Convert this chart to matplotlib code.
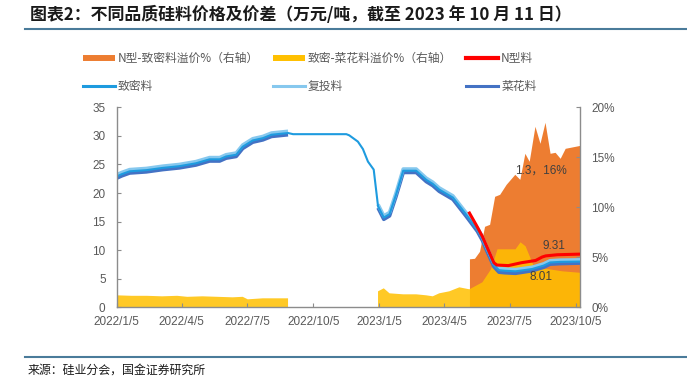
import numpy as np
import pandas as pd
import matplotlib
matplotlib.use("Agg")
import matplotlib.pyplot as plt
from matplotlib.lines import Line2D

# ---- data (万元/吨, %) ----
price_dates = ["2022-01-05", "2022-01-12", "2022-01-23", "2022-02-15", "2022-03-10", "2022-04-02",
               "2022-04-25", "2022-05-14", "2022-05-28", "2022-06-06", "2022-06-20", "2022-06-29",
               "2022-07-13", "2022-07-27", "2022-08-08", "2022-08-31",
               "2022-09-07", "2022-11-20", "2022-11-24", "2022-12-06", "2022-12-13", "2022-12-20",
               "2022-12-28",
               "2023-01-03", "2023-01-11", "2023-01-19", "2023-01-28", "2023-02-07", "2023-02-25",
               "2023-03-04", "2023-03-11", "2023-03-20", "2023-03-29", "2023-04-17", "2023-05-05",
               "2023-05-21", "2023-05-28", "2023-06-01", "2023-06-13", "2023-06-20", "2023-06-28",
               "2023-07-13", "2023-08-05", "2023-08-21", "2023-08-30", "2023-09-13", "2023-10-11"]
nan = np.nan
dense = [22.9, 23.3, 23.8, 24.0, 24.4, 24.7, 25.2, 25.9, 25.9, 26.4, 26.7, 28.1, 29.2, 29.6, 30.2, 30.5,
         30.3, 30.3, 30.1, 29.0, 27.7, 25.5, 24.1,
         17.7, 15.7, 16.3, 19.7, 23.9, 23.9, 23.1, 22.3, 21.6, 20.6, 19.2, 16.3, 13.6, 12.0, 10.8,
         7.4, 6.5, 6.4, 6.3, 6.7, 7.3, 7.85, 7.95, 8.01]
recharge = [23.2, 23.6, 24.1, 24.3, 24.7, 25.0, 25.5, 26.2, 26.2, 26.7, 27.0, 28.4, 29.5, 29.9, 30.5, 30.8,
            nan, nan, nan, nan, nan, nan, nan,
            18.0, 16.0, 16.6, 20.0, 24.2, 24.2, 23.4, 22.6, 21.9, 20.9, 19.5, 16.6, 13.9, 12.3, 11.1,
            7.7, 6.8, 6.7, 6.6, 7.0, 7.6, 8.15, 8.25, 8.3]
cauli = [22.6, 23.0, 23.5, 23.7, 24.1, 24.4, 24.9, 25.6, 25.6, 26.1, 26.4, 27.8, 28.9, 29.3, 29.9, 30.2,
         nan, nan, nan, nan, nan, nan, nan,
         17.4, 15.4, 16.0, 19.4, 23.6, 23.6, 22.8, 22.0, 21.3, 20.3, 18.9, 16.0, 13.3, 11.7, 10.5,
         7.1, 6.15, 6.05, 5.95, 6.4, 7.0, 7.55, 7.65, 7.74]

ntype_dates = ["2023-05-10", "2023-05-19", "2023-05-28", "2023-06-13", "2023-06-17", "2023-07-03",
               "2023-07-21", "2023-08-10", "2023-08-19", "2023-08-24", "2023-09-09", "2023-10-11"]
ntype = [16.5, 14.5, 12.4, 7.8, 7.4, 7.3, 7.8, 8.2, 8.8, 9.0, 9.2, 9.31]

n_prem_dates = ["2023-05-10", "2023-05-17", "2023-05-24", "2023-05-31", "2023-06-07", "2023-06-14",
                "2023-06-21", "2023-06-30", "2023-07-06", "2023-07-12", "2023-07-19", "2023-07-26",
                "2023-08-01", "2023-08-09", "2023-08-16", "2023-08-23", "2023-08-30", "2023-09-06",
                "2023-09-13", "2023-09-20", "2023-10-11"]
n_prem = [4.85, 4.9, 5.6, 8.1, 8.3, 11.1, 11.3, 12.3, 12.8, 13.3, 12.8, 15.4, 14.6, 18.1, 16.4, 18.5,
          15.4, 15.5, 14.9, 15.9, 16.2]

c_prem_dates = ["2022-01-05", "2022-01-26", "2022-02-16", "2022-03-09", "2022-03-30", "2022-04-13",
                "2022-05-04", "2022-05-25", "2022-06-15", "2022-06-29", "2022-07-06", "2022-07-27",
                "2022-08-31", "2022-09-07", "2022-12-28",
                "2023-01-03", "2023-01-11", "2023-01-19", "2023-02-07", "2023-02-25", "2023-03-11",
                "2023-03-20", "2023-03-29", "2023-04-12", "2023-04-26", "2023-05-10", "2023-05-28",
                "2023-06-09", "2023-06-18", "2023-07-13", "2023-07-20", "2023-07-27", "2023-08-08",
                "2023-08-29", "2023-09-16", "2023-10-11"]
c_prem = [1.2, 1.15, 1.15, 1.1, 1.15, 1.05, 1.1, 1.05, 1.0, 1.05, 0.8, 0.9, 0.9, nan, nan,
          1.6, 1.9, 1.4, 1.3, 1.3, 1.2, 1.1, 1.4, 1.6, 2.0, 1.8, 2.5, 3.8, 5.8, 5.8, 6.5, 6.1, 4.0,
          3.8, 3.6, 3.45]

xtick_dates = ["2022-01-05", "2022-04-05", "2022-07-05", "2022-10-05",
               "2023-01-05", "2023-04-05", "2023-07-05", "2023-10-05"]
xtick_labels = ["2022/1/5", "2022/4/5", "2022/7/5", "2022/10/5",
                "2023/1/5", "2023/4/5", "2023/7/5", "2023/10/5"]
left_ticks = [0, 5, 10, 15, 20, 25, 30, 35]
right_ticks = [0, 5, 10, 15, 20]
right_labels = ["0%", "5%", "10%", "15%", "20%"]

labels = ["N型-致密料溢价%（右轴）", "致密-菜花料溢价%（右轴）", "N型料", "致密料", "复投料", "菜花料"]
title = "图表2：不同品质硅料价格及价差（万元/吨，截至 2023 年 10 月 11 日）"
source = "来源：硅业分会，国金证券研究所"

c_orange = "#ED7D31"
c_yellow = "#FFC000"
c_red = "#FF0000"
c_dense = "#1E9BDF"
c_recharge = "#86C8EE"
c_cauli = "#4472C4"
grey = "#595959"

plt.rcParams["font.family"] = ["Noto Sans CJK SC", "DejaVu Sans"]

fig = plt.figure(figsize=(6.87, 3.78), dpi=100)
ax = fig.add_axes([0.1699, 0.187, 0.6748, 0.5291])
ax2 = ax.twinx()
ax.set_zorder(2)
ax2.set_zorder(1)
ax.patch.set_visible(False)

px = pd.to_datetime(price_dates)
nx = pd.to_datetime(ntype_dates)
ox = pd.to_datetime(n_prem_dates)
yx = pd.to_datetime(c_prem_dates)

# areas on right axis
ax2.fill_between(ox, 0, n_prem, color=c_orange, lw=0)
cp = np.array(c_prem)
ax2.fill_between(yx, 0, np.nan_to_num(cp), where=~np.isnan(cp), color=c_yellow, alpha=0.85, lw=0)

# price lines on left axis
ax.plot(px, cauli, color=c_cauli, lw=2.6, solid_capstyle="butt")
ax.plot(px, recharge, color=c_recharge, lw=2.6, solid_capstyle="butt")
ax.plot(px, dense, color=c_dense, lw=1.5)
ax.plot(nx, ntype, color=c_red, lw=2.2)

ax.set_xlim(pd.Timestamp("2022-01-05"), pd.Timestamp("2023-10-11"))
ax.set_ylim(0, 35)
ax2.set_ylim(0, 20)

ax.set_xticks(pd.to_datetime(xtick_dates))
ax.set_xticklabels(xtick_labels)
ax.set_yticks(left_ticks)
ax.set_yticklabels([str(v) for v in left_ticks])
ax2.set_yticks(right_ticks)
ax2.set_yticklabels(right_labels)

for a in (ax, ax2):
    a.spines["top"].set_visible(False)
    for s in ("left", "right", "bottom"):
        a.spines[s].set_color("#8C8C8C")
        a.spines[s].set_linewidth(1.0)
    for lab in a.get_xticklabels() + a.get_yticklabels():
        lab.set_family(["Liberation Sans", "DejaVu Sans"])
        lab.set_fontsize(8.5)
        lab.set_color(grey)
ax.tick_params(axis="y", direction="in", length=3, color="#8C8C8C", pad=8)
ax.tick_params(axis="x", direction="in", length=3, color="#8C8C8C", pad=6)
ax2.tick_params(axis="y", direction="in", length=3, color="#8C8C8C", pad=8)
ax2.spines["left"].set_visible(False)
ax2.spines["bottom"].set_visible(False)
ax.spines["right"].set_visible(False)

# annotations
gap = ntype[-1] - dense[-1]
ax.text(0.915, 0.683, f"{gap:.1f}，{gap / dense[-1] * 100:.0f}%", transform=ax.transAxes,
        ha="center", va="center", fontsize=8.5, color="#404040",
        family=["Liberation Sans", "Noto Sans CJK SC"])
ax.text(0.943, 0.308, f"{ntype[-1]:.2f}", transform=ax.transAxes, ha="center", va="center",
        fontsize=8.5, color="#404040", family=["Liberation Sans", "DejaVu Sans"])
ax.text(0.916, 0.15, f"{dense[-1]:.2f}", transform=ax.transAxes, ha="center", va="center",
        fontsize=8.5, color="#404040", family=["Liberation Sans", "DejaVu Sans"])

# legend (column-first order)
handles = {
    labels[0]: Line2D([], [], color=c_orange, lw=4.3, solid_capstyle="butt"),
    labels[1]: Line2D([], [], color=c_yellow, lw=4.3, solid_capstyle="butt"),
    labels[2]: Line2D([], [], color=c_red, lw=3.0),
    labels[3]: Line2D([], [], color=c_dense, lw=2.2),
    labels[4]: Line2D([], [], color=c_recharge, lw=2.2),
    labels[5]: Line2D([], [], color=c_cauli, lw=2.2),
}
order = [labels[0], labels[3], labels[1], labels[4], labels[2], labels[5]]
leg = fig.legend([handles[k] for k in order], order, ncol=3, loc="upper left",
                 bbox_to_anchor=(83 / 687, 1 - 52 / 378), frameon=False, fontsize=8.5,
                 borderpad=0, borderaxespad=0, handlelength=2.7, handletextpad=0.25,
                 columnspacing=1.2, labelspacing=1.3)
for t in leg.get_texts():
    t.set_color(grey)

# title, rules, source
fig.text(30 / 687, 1 - 15 / 378, title, ha="left", va="center", fontsize=12.2,
         fontweight="bold", color="#1a1a1a")
rule_c = "#4A7B9A"
fig.add_artist(Line2D([25 / 687, 1], [1 - 29.3 / 378] * 2, color=rule_c, lw=1.5))
fig.add_artist(Line2D([25 / 687, 1], [1 - 356.7 / 378] * 2, color=rule_c, lw=1.5))
fig.text(28 / 687, 1 - 370 / 378, source, ha="left", va="center", fontsize=8.6, color="#1a1a1a")

fig.savefig("out.png", dpi=100)
